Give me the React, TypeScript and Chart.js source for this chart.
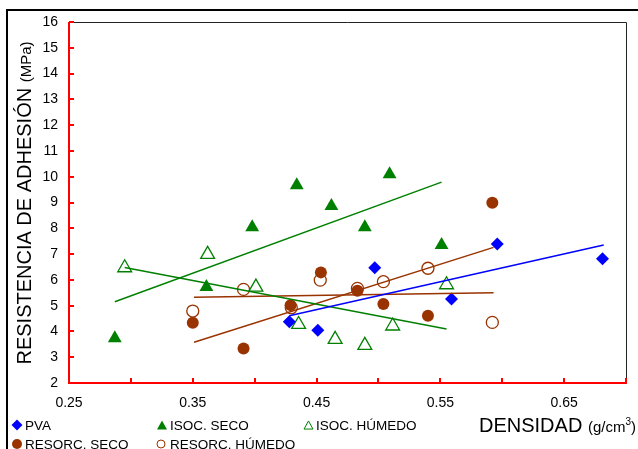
import React, { useEffect, useRef } from 'react';
import { Chart, registerables } from 'chart.js';

Chart.register(...registerables);

const FONT = 'Arial, "Liberation Sans", sans-serif';

// ---- data ----
const pvaX = [0.428, 0.451, 0.497, 0.559, 0.596, 0.681];
const pvaY = [4.38, 4.05, 6.47, 5.26, 7.39, 6.82];

const isocSecoX = [0.287, 0.361, 0.398, 0.434, 0.462, 0.489, 0.509, 0.551];
const isocSecoY = [3.74, 5.72, 8.04, 9.67, 8.86, 8.04, 10.1, 7.35];

const isocHumX = [0.295, 0.362, 0.401, 0.4355, 0.465, 0.489, 0.5115, 0.555];
const isocHumY = [6.47, 6.99, 5.72, 4.27, 3.69, 3.46, 4.21, 5.81];

const resSecoX = [0.35, 0.391, 0.429, 0.4535, 0.483, 0.504, 0.54, 0.592];
const resSecoY = [4.34, 3.34, 5.02, 6.29, 5.58, 5.06, 4.61, 8.99];

const resHumX = [0.35, 0.391, 0.4296, 0.453, 0.483, 0.504, 0.54, 0.592];
const resHumY = [4.79, 5.63, 4.92, 5.99, 5.67, 5.93, 6.45, 4.35];

// trend lines (end points)
const pvaTrendX = [0.428, 0.682];
const pvaTrendY = [4.61, 7.35];
const isocSecoTrendX = [0.287, 0.551];
const isocSecoTrendY = [5.15, 9.79];
const isocHumTrendX = [0.295, 0.555];
const isocHumTrendY = [6.48, 4.09];
const resSecoTrendX = [0.351, 0.593];
const resSecoTrendY = [3.58, 7.26];
const resHumTrendX = [0.351, 0.593];
const resHumTrendY = [5.33, 5.5];

const xMin = 0.25;
const xMax = 0.7;
const xStep = 0.05;
const yMin = 2;
const yMax = 16;
const yStep = 1;

const legendLabels = ['PVA', 'ISOC. SECO', 'ISOC. HÚMEDO', 'RESORC. SECO', 'RESORC. HÚMEDO'];
const yTitleMain = 'RESISTENCIA DE ADHESIÓN';
const yTitleUnit = '(MPa)';
const xTitleMain = 'DENSIDAD';
const xTitleUnit = '(g/cm';
const xTitleSup = '3';

const BLUE = '#0000FF';
const GREEN = '#008000';
const BROWN = '#993300';
const RED = '#FF0000';

const pts = (xs: number[], ys: number[]) => xs.map((x, i) => ({ x, y: ys[i] }));

type Kind = 'diamond' | 'triangle' | 'circle';

function drawMarker(ctx: CanvasRenderingContext2D, kind: Kind, x: number, y: number, r: number, color: string, filled: boolean) {
  ctx.save();
  ctx.beginPath();
  if (kind === 'diamond') {
    ctx.moveTo(x, y - r);
    ctx.lineTo(x + r, y);
    ctx.lineTo(x, y + r);
    ctx.lineTo(x - r, y);
    ctx.closePath();
  } else if (kind === 'triangle') {
    const h = r * 1.8;
    ctx.moveTo(x, y - h / 2);
    ctx.lineTo(x + r, y + h / 2);
    ctx.lineTo(x - r, y + h / 2);
    ctx.closePath();
  } else {
    ctx.arc(x, y, r, 0, Math.PI * 2);
  }
  if (filled) {
    ctx.fillStyle = color;
    ctx.fill();
  } else {
    ctx.fillStyle = '#fff';
    ctx.fill();
    ctx.lineWidth = 1;
    ctx.strokeStyle = color;
    ctx.stroke();
  }
  ctx.restore();
}

const decorPlugin = {
  id: 'decor',
  beforeDraw(chart: any) {
    const ctx = chart.ctx as CanvasRenderingContext2D;
    ctx.save();
    ctx.fillStyle = '#fff';
    ctx.fillRect(0, 0, chart.width, chart.height);
    // outer frame
    ctx.strokeStyle = '#000';
    ctx.lineWidth = 2;
    ctx.beginPath();
    ctx.moveTo(7, 700);
    ctx.lineTo(7, 10);
    ctx.lineTo(700, 10);
    ctx.stroke();
    ctx.restore();
  },
  beforeDatasetsDraw(chart: any) {
    const ctx = chart.ctx as CanvasRenderingContext2D;
    const a = chart.chartArea;
    const xs = chart.scales.x;
    const ys = chart.scales.y;
    ctx.save();
    // top and right border
    ctx.strokeStyle = '#222';
    ctx.lineWidth = 1;
    ctx.beginPath();
    ctx.moveTo(a.left, a.top + 0.5);
    ctx.lineTo(a.right + 0.5, a.top + 0.5);
    ctx.lineTo(a.right + 0.5, a.bottom);
    ctx.stroke();
    // red axes
    ctx.strokeStyle = RED;
    ctx.lineWidth = 2;
    ctx.beginPath();
    ctx.moveTo(a.left, a.top);
    ctx.lineTo(a.left, a.bottom);
    ctx.lineTo(a.right + 1, a.bottom);
    ctx.stroke();
    ctx.beginPath();
    for (let v = yMin; v <= yMax + 1e-9; v += yStep) {
      const py = Math.round(ys.getPixelForValue(v));
      ctx.moveTo(a.left, py);
      ctx.lineTo(a.left + 5, py);
    }
    const n = Math.round((xMax - xMin) / xStep);
    for (let i = 0; i <= n; i++) {
      const px = Math.round(xs.getPixelForValue(xMin + i * xStep));
      ctx.moveTo(px, a.bottom);
      ctx.lineTo(px, a.bottom - 5);
    }
    ctx.stroke();
    ctx.restore();
  },
  afterDraw(chart: any) {
    const ctx = chart.ctx as CanvasRenderingContext2D;
    ctx.save();
    ctx.fillStyle = '#000';
    ctx.textBaseline = 'alphabetic';
    ctx.textAlign = 'left';

    // legend
    const legendFont = `13.5px ${FONT}`;
    ctx.font = legendFont;
    const items: { kind: Kind; color: string; filled: boolean; r: number; mx: number; tx: number; y: number }[] = [
      { kind: 'diamond', color: BLUE, filled: true, r: 5.5, mx: 17, tx: 25, y: 425 },
      { kind: 'triangle', color: GREEN, filled: true, r: 5, mx: 162, tx: 170, y: 425 },
      { kind: 'triangle', color: GREEN, filled: false, r: 4.5, mx: 308.5, tx: 316, y: 425 },
      { kind: 'circle', color: BROWN, filled: true, r: 5, mx: 17, tx: 25, y: 444 },
      { kind: 'circle', color: BROWN, filled: false, r: 4, mx: 161, tx: 170, y: 444 },
    ];
    items.forEach((it, i) => {
      drawMarker(ctx, it.kind, it.mx, it.y, it.r, it.color, it.filled);
      ctx.fillStyle = '#000';
      ctx.font = legendFont;
      ctx.fillText(legendLabels[i], it.tx, it.y + 5);
    });

    // x title
    let x = 479;
    const base = 432;
    ctx.font = `20px ${FONT}`;
    ctx.fillText(xTitleMain, x, base);
    x += ctx.measureText(xTitleMain + ' ').width;
    ctx.font = `15px ${FONT}`;
    ctx.fillText(xTitleUnit, x, base);
    x += ctx.measureText(xTitleUnit).width;
    ctx.font = `10px ${FONT}`;
    ctx.fillText(xTitleSup, x, base - 7);
    x += ctx.measureText(xTitleSup).width;
    ctx.font = `15px ${FONT}`;
    ctx.fillText(')', x, base);

    // y title (rotated)
    ctx.save();
    ctx.translate(31, 203);
    ctx.rotate(-Math.PI / 2);
    ctx.font = `20px ${FONT}`;
    const w1 = ctx.measureText(yTitleMain + ' ').width;
    ctx.font = `15px ${FONT}`;
    const w2 = ctx.measureText(yTitleUnit).width;
    let sx = -(w1 + w2) / 2;
    ctx.font = `20px ${FONT}`;
    ctx.fillText(yTitleMain, sx, 0);
    sx += w1;
    ctx.font = `15px ${FONT}`;
    ctx.fillText(yTitleUnit, sx, 0);
    ctx.restore();

    ctx.restore();
  },
};

export default function App() {
  const ref = useRef<HTMLCanvasElement | null>(null);
  useEffect(() => {
    if (!ref.current) return;
    const lineDs = (xs: number[], ys: number[], color: string) => ({
      type: 'line' as const,
      data: pts(xs, ys),
      borderColor: color,
      borderWidth: 1.5,
      pointRadius: 0,
      showLine: true,
      fill: false,
      order: 0,
    });
    const chart = new Chart(ref.current, {
      type: 'scatter',
      data: {
        datasets: [
          lineDs(pvaTrendX, pvaTrendY, BLUE),
          lineDs(isocSecoTrendX, isocSecoTrendY, GREEN),
          lineDs(isocHumTrendX, isocHumTrendY, GREEN),
          lineDs(resSecoTrendX, resSecoTrendY, BROWN),
          lineDs(resHumTrendX, resHumTrendY, BROWN),
          {
            data: pts(pvaX, pvaY),
            pointStyle: 'rectRot',
            pointRadius: 6.5,
            backgroundColor: BLUE,
            borderColor: BLUE,
            borderWidth: 0,
            order: 1,
          },
          {
            data: pts(isocSecoX, isocSecoY),
            pointStyle: 'triangle',
            pointRadius: 8,
            backgroundColor: GREEN,
            borderColor: GREEN,
            borderWidth: 0,
            order: 1,
          },
          {
            data: pts(isocHumX, isocHumY),
            pointStyle: 'triangle',
            pointRadius: 8,
            backgroundColor: '#fff',
            borderColor: GREEN,
            borderWidth: 1.3,
            order: 1,
          },
          {
            data: pts(resSecoX, resSecoY),
            pointStyle: 'circle',
            pointRadius: 6,
            backgroundColor: BROWN,
            borderColor: BROWN,
            borderWidth: 0,
            order: 1,
          },
          {
            data: pts(resHumX, resHumY),
            pointStyle: 'circle',
            pointRadius: 6,
            backgroundColor: '#fff',
            borderColor: BROWN,
            borderWidth: 1.3,
            order: 1,
          },
        ] as any,
      },
      options: {
        responsive: false,
        animation: false,
        events: [],
        layout: { padding: { top: 22, right: 11, left: 0, bottom: 0 } },
        plugins: { legend: { display: false }, tooltip: { enabled: false } },
        scales: {
          x: {
            type: 'linear',
            min: xMin,
            max: xMax,
            afterFit: (s: any) => { s.height = 66; },
            grid: { display: false, drawTicks: false },
            border: { display: false },
            ticks: {
              stepSize: xStep,
              autoSkip: false,
              maxRotation: 0,
              padding: 12,
              color: '#000',
              font: { family: FONT, size: 14 },
              callback: (v: any, i: number) => (i % 2 === 0 ? Number(v).toFixed(2) : ''),
            },
          },
          y: {
            type: 'linear',
            min: yMin,
            max: yMax,
            afterFit: (s: any) => { s.width = 69; },
            grid: { display: false, drawTicks: false },
            border: { display: false },
            ticks: {
              stepSize: yStep,
              autoSkip: false,
              padding: 11,
              color: '#000',
              font: { family: FONT, size: 14 },
            },
          },
        },
      } as any,
      plugins: [decorPlugin],
    });
    return () => chart.destroy();
  }, []);
  return (
    <div style={{ position: 'absolute', left: 0, top: 0, width: 638, height: 449 }}>
      <canvas ref={ref} width={638} height={449} style={{ display: 'block' }} />
    </div>
  );
}
